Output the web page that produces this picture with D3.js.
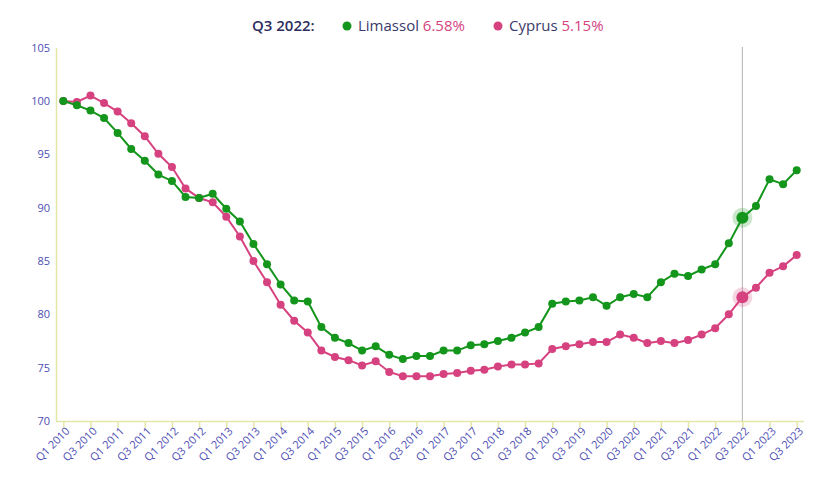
<!DOCTYPE html>
<html><head><meta charset="utf-8">
<script src="https://cdn.jsdelivr.net/npm/d3@7"></script>
<style>body{margin:0;background:#fff;font-family:"Open Sans",sans-serif;}</style>
</head><body><svg id="c" width="832" height="491"></svg>
<script>
const quarters = [];
for (let y = 2010; y <= 2023; y++) for (let q = 1; q <= 4; q++) { if (y === 2023 && q > 3) break; quarters.push("Q" + q + " " + y); }
const limassol = [100,99.6,99.1,98.4,97.0,95.5,94.4,93.1,92.5,91.0,90.9,91.3,89.9,88.7,86.6,84.7,82.8,81.3,81.2,78.8,77.8,77.3,76.6,77.0,76.2,75.8,76.1,76.1,76.6,76.6,77.1,77.2,77.5,77.8,78.3,78.8,81.0,81.2,81.3,81.6,80.8,81.6,81.9,81.6,83.0,83.8,83.6,84.2,84.7,86.65,89.05,90.15,92.65,92.2,93.5];
const cyprus = [100,99.9,100.5,99.8,99.0,97.9,96.7,95.05,93.8,91.8,90.9,90.5,89.15,87.3,85.0,83.0,80.9,79.4,78.3,76.6,76.0,75.7,75.2,75.6,74.6,74.2,74.2,74.2,74.4,74.5,74.7,74.8,75.1,75.3,75.3,75.4,76.75,77.0,77.2,77.4,77.4,78.1,77.8,77.3,77.5,77.3,77.6,78.1,78.7,80.0,81.6,82.5,83.9,84.5,85.56];
const yTicks = [70,75,80,85,90,95,100,105];
const xTickLabels = quarters.filter((d,i)=>i%2===0);
const hoverQuarter = "Q3 2022";
const legendItems = [{name:"Limassol", value:"6.58%", color:"#14951b", data:limassol},{name:"Cyprus", value:"5.15%", color:"#d6427f", data:cyprus}];

const svg = d3.select("#c");
const x = d3.scalePoint().domain(quarters).range([63.3, 796.7]);
const y = d3.scaleLinear().domain([70,105]).range([421, 47.6]);
const axisColor = "#e2e6a6", labelColor = "#4d4db3";

// y axis
const ya = svg.append("g").attr("transform","translate(56,0)")
  .call(d3.axisLeft(y).tickValues(yTicks).tickSize(0).tickPadding(6));
ya.select(".domain").attr("stroke", axisColor).attr("stroke-width",1.5);
ya.selectAll("text").attr("fill", labelColor).style("font-family","'Open Sans',sans-serif").style("font-size","11px");

// x axis
const xa = svg.append("g").attr("transform","translate(0,421)")
  .call(d3.axisBottom(x).tickValues(xTickLabels).tickSize(7).tickSizeOuter(0));
xa.select(".domain").attr("stroke", axisColor).attr("stroke-width",1.5).attr("d","M56,0.5H804");
xa.selectAll(".tick line").attr("stroke", axisColor).attr("stroke-width",1.5);
xa.selectAll("text").attr("fill", labelColor).style("font-family","'Open Sans',sans-serif").style("font-size","11px")
  .attr("text-anchor","end").attr("transform","translate(4,8) rotate(-45)").attr("dy","0.35em").attr("y",0).attr("x",0);

// hover line
svg.append("line").attr("x1", x(hoverQuarter)).attr("x2", x(hoverQuarter)).attr("y1", 47).attr("y2", 421)
  .attr("stroke","#b3b3b3").attr("stroke-width",1);

const line = d3.line().x((d,i)=>x(quarters[i])).y(d=>y(d));
const hi = quarters.indexOf(hoverQuarter);
legendItems.slice().reverse().forEach(s => {
  svg.append("path").datum(s.data).attr("d", line).attr("fill","none").attr("stroke", s.color).attr("stroke-width",2);
  svg.append("g").selectAll("circle").data(s.data).join("circle")
    .attr("cx",(d,i)=>x(quarters[i])).attr("cy",d=>y(d)).attr("r",4).attr("fill", s.color);
  svg.append("circle").attr("cx", x(hoverQuarter)).attr("cy", y(s.data[hi])).attr("r",10).attr("fill", s.color).attr("opacity",0.22);
  svg.append("circle").attr("cx", x(hoverQuarter)).attr("cy", y(s.data[hi])).attr("r",6).attr("fill", s.color);
});

// legend
const lg = svg.append("g").style("font-family","'Open Sans',sans-serif").style("font-size","15px");
lg.append("text").attr("x",252).attr("y",31).attr("fill","#2d2d5e").style("font-weight","600").text(hoverQuarter + ":");
const pos = [347, 498];
legendItems.forEach((s,k)=>{
  lg.append("circle").attr("cx",pos[k]).attr("cy",26).attr("r",4.5).attr("fill",s.color);
  const t = lg.append("text").attr("x",pos[k]+11).attr("y",31);
  t.append("tspan").attr("fill","#3a3a6a").text(s.name + " ");
  t.append("tspan").attr("fill","#d6427f").text(s.value);
});
</script></body></html>
